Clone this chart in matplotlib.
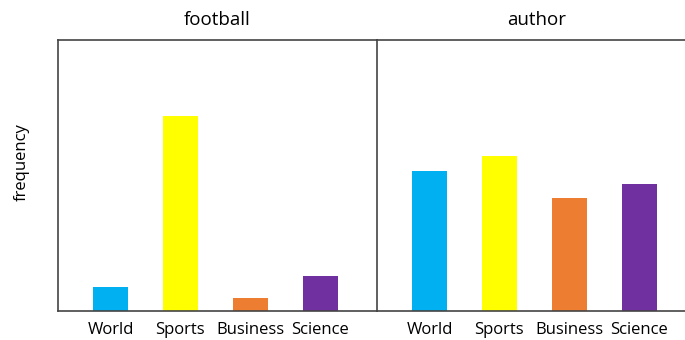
import matplotlib
matplotlib.use("Agg")
import matplotlib.pyplot as plt

plt.rcParams['font.family'] = ['Open Sans', 'DejaVu Sans']

categories = ["World", "Sports", "Business", "Science"]
football = [24, 195, 13, 35]
author = [140, 155, 113, 127]
titles = ["football", "author"]
colors = ["#00B0F0", "#FFFF00", "#ED7D31", "#7030A0"]

fig = plt.figure(figsize=(6.85, 3.4), dpi=100)
W, H = 685, 340
def pos(x0, x1, ytop, ybot):
    return [x0 / W, 1 - ybot / H, (x1 - x0) / W, (ybot - ytop) / H]

ax1 = fig.add_axes(pos(58, 377, 40, 311))
ax2 = fig.add_axes(pos(377, 696, 40, 311))

x = range(len(categories))
for ax, vals, t in [(ax1, football, titles[0]), (ax2, author, titles[1])]:
    ax.bar(x, vals, width=0.5, color=colors)
    ax.set_xlim(-0.75, 3.81)
    ax.set_ylim(0, 271)
    ax.set_yticks([])
    ax.set_xticks(list(x))
    ax.set_xticklabels(categories, fontsize=12)
    ax.tick_params(axis='x', length=0, pad=8)
    ax.set_title(t, fontsize=13.5, pad=11)
    for s in ax.spines.values():
        s.set_color("#444444")
        s.set_linewidth(1.2)

ax1.spines['right'].set_visible(False)
fig.text(22 / W, 1 - 162 / H, "frequency", rotation=90, ha='center', va='center', fontsize=12)

fig.savefig("out.png", dpi=100)
